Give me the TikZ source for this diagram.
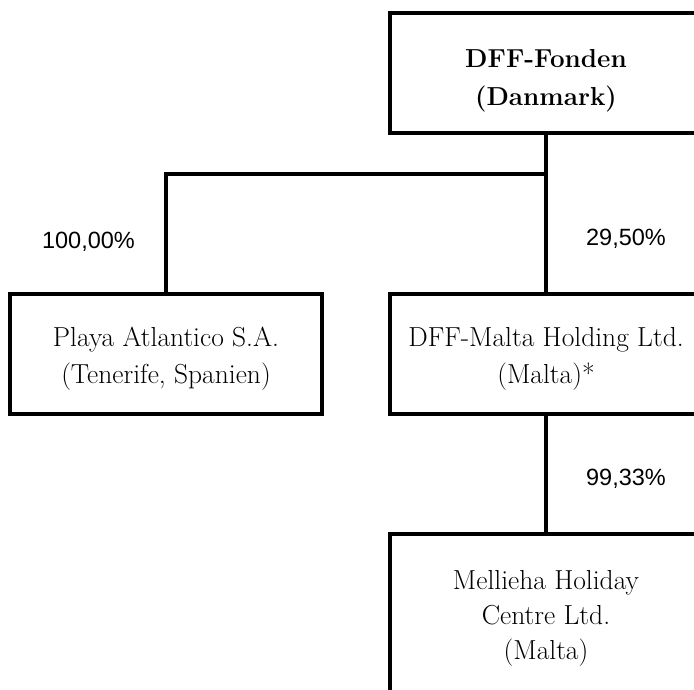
\documentclass[tikz,border=0pt]{standalone}
\usepackage{fontspec}
\newfontfamily\pctfont{Liberation Sans}
\usetikzlibrary{calc}
\tikzset{
  orgbox/.style={draw=black, line width=3.5pt, fill=white, rectangle, minimum width=312pt, minimum height=120pt, inner sep=0pt},
  boxtext/.style={align=center, inner sep=0pt, font=\fontsize{27.5}{37}\selectfont},
  boldtext/.style={align=center, inner sep=0pt, font=\fontsize{26}{38}\selectfont\bfseries},
  link/.style={draw=black, line width=3.5pt},
  pct/.style={font=\pctfont\fontsize{23.5}{28}\selectfont, inner sep=0pt}
}
\begin{document}
\begin{tikzpicture}[x=1pt,y=1pt]
\useasboundingbox (0,0) rectangle (694,689);
\clip (0,0) rectangle (694,689);
\node[orgbox] (top) at (546,616) {};
\node[orgbox] (left) at (166,335) {};
\node[orgbox] (mid) at (546,335) {};
\node[orgbox, minimum height=166pt] (bot) at (546,72) {};
\node[boldtext] (toptxt) at ($(top.center)+(0,-8)$) {DFF-Fonden\\(Danmark)};
\node[boxtext] (lefttxt) at ($(left.center)+(0,-5)$) {Playa Atlantico S.A.\\(Tenerife, Spanien)};
\node[boxtext] (midtxt) at ($(mid.center)+(0,-5)$) {DFF-Malta Holding Ltd.\\(Malta)*};
\node[boxtext, font=\fontsize{27.5}{35}\selectfont] (bottxt) at ($(bot.center)+(0,-1)$) {Mellieha Holiday\\Centre Ltd.\\(Malta)};
\coordinate (split) at ($(top.south)!0.25!(mid.north)$);
\draw[link] (top.south) -- (mid.north);
\draw[link] (split) -| (left.north);
\draw[link] (mid.south) -- (bot.north);
\node[pct] (p1) at (88.5,447) {100,00\%};
\node[pct] (p2) at (626,450) {29,50\%};
\node[pct] (p3) at (626,210) {99,33\%};
\end{tikzpicture}
\end{document}
